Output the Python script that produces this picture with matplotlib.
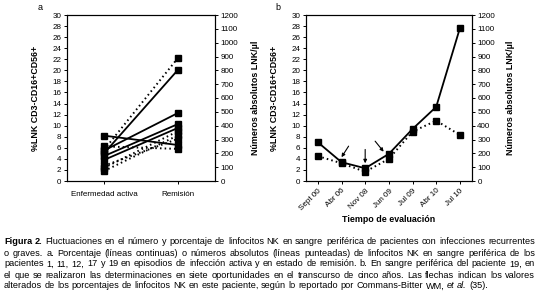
import matplotlib
matplotlib.use("Agg")
import matplotlib.pyplot as plt

plt.rcParams['font.family'] = ['Liberation Sans', 'DejaVu Sans']

# Panel a: five patients, active infection vs remission
estados = ['Enfermedad activa', 'Remisión']
pct_activa = [8.2, 5.0, 5.5, 4.5, 3.8]        # % LNK (solid lines)
pct_remision = [6.5, 20.1, 12.3, 10.3, 9.6]
abs_activa = [225, 250, 95, 72, 110]          # LNK/µl (dotted lines)
abs_remision = [890, 232, 360, 330, 305]

# Panel b: patient 19 over time
fechas = ['Sept 00', 'Abr 06', 'Nov 08', 'Jun 09', 'Jul 09', 'Abr 10', 'Jul 10']
pct_p19 = [7.0, 3.4, 2.3, 4.9, 9.4, 13.4, 27.6]
abs_p19 = [180, 128, 67, 160, 357, 436, 333]

caption = [
    "Figura 2. Fluctuaciones en el número y porcentaje de linfocitos NK en sangre periférica de pacientes con infecciones recurrentes",
    "o graves. a. Porcentaje (líneas continuas) o números absolutos (líneas punteadas) de linfocitos NK en sangre periférica de los",
    "pacientes 1, 11, 12, 17 y 19 en episodios de infección activa y en estado de remisión. b. En sangre periférica del paciente 19, en",
    "el que se realizaron las determinaciones en siete oportunidades en el transcurso de cinco años. Las flechas indican los valores",
    "alterados de los porcentajes de linfocitos NK en este paciente, según lo reportado por Commans-Bitter WM, et al. (35).",
]

W, H = 539, 295
fig = plt.figure(figsize=(W / 100, H / 100), dpi=100)

tick_fs = 5.8
lab_fs = 6.4
solid = dict(color='black', lw=1.3, marker='s', ms=4.0, ls='-')
dotted = dict(color='black', lw=1.4, marker='s', ms=4.0, ls=(0, (0.8, 1.6)))


def style_axes(ax, ax2, xl_left, xl_right):
    ax.set_ylim(0, 30)
    ax.set_yticks(range(0, 31, 2))
    ax2.set_ylim(0, 1200)
    ax2.set_yticks(range(0, 1201, 100))
    for a in (ax, ax2):
        a.tick_params(labelsize=tick_fs, length=2.5, width=0.7, pad=1.5)
        for s in a.spines.values():
            s.set_linewidth(0.8)
    ax.set_ylabel('%LNK CD3-CD16+CD56+', fontsize=lab_fs, fontweight='bold')
    ax2.set_ylabel('Números absolutos LNK/µl', fontsize=lab_fs, fontweight='bold', rotation=90)
    ax.yaxis.set_label_coords(xl_left, 0.5)
    ax2.yaxis.set_label_coords(xl_right, 0.5)


# ---- panel a
axa = fig.add_axes([67 / W, 1 - 181 / H, 148 / W, 166 / H])
axa2 = axa.twinx()
xa = [0, 1]
for i in range(len(pct_activa)):
    axa.plot(xa, [pct_activa[i], pct_remision[i]], **solid)
    axa2.plot(xa, [abs_activa[i], abs_remision[i]], **dotted)
axa.set_xlim(-0.5, 1.5)
axa.set_xticks(xa)
axa.set_xticklabels(estados)
style_axes(axa, axa2, -0.185, 1.245)
axa.tick_params(axis='x', pad=5)
fig.text(38 / W, 1 - 7 / H, 'a', fontsize=6.5, ha='left', va='center')

# ---- panel b
axb = fig.add_axes([306 / W, 1 - 181 / H, 165.7 / W, 166 / H])
axb2 = axb.twinx()
xb = list(range(len(fechas)))
axb.plot(xb, pct_p19, **solid)
axb2.plot(xb, abs_p19, **dotted)
axb.set_xlim(-0.5, 6.5)
axb.set_xticks(xb)
axb.set_xticklabels(fechas, rotation=45, ha='right', rotation_mode='anchor')
style_axes(axb, axb2, -0.16, 1.21)
axb.tick_params(axis='x', pad=2)
fig.text(275 / W, 1 - 7 / H, 'b', fontsize=6.5, ha='left', va='center')

# arrows marking altered percentages
arrows = [((1.0, 4.3), (1.3, 6.3)), ((2.0, 3.2), (2.0, 5.7)), ((2.78, 5.3), (2.42, 7.2))]
for head, tail in arrows:
    axb.annotate('', xy=head, xytext=tail,
                 arrowprops=dict(arrowstyle='-|>', color='black', lw=0.8,
                                 mutation_scale=5, shrinkA=0, shrinkB=0))

fig.text(389 / W, 1 - 220 / H, 'Tiempo de evaluación', fontsize=6.4,
         fontweight='bold', ha='center', va='center')

# ---- caption, justified word by word
renderer = fig.canvas.get_renderer()
cap_fs = 6.6
x0, x1 = 4.0, 535.0
ys = [242, 253, 264, 275, 286]


def word_style(w, line_no, k):
    if line_no == 0 and k < 2:
        return 'bold', 'normal'
    if w in ('et', 'al.') and line_no == 4:
        return 'normal', 'italic'
    return 'normal', 'normal'


space_w = None
for n, line in enumerate(caption):
    words = line.split(' ')
    items = []
    for k, w in enumerate(words):
        wt, st = word_style(w, n, k)
        t = fig.text(0, 0, w, fontsize=cap_fs, fontweight=wt, style=st)
        bw = t.get_window_extent(renderer).width
        t.remove()
        items.append((w, wt, st, bw))
    if space_w is None:
        t = fig.text(0, 0, 'a a', fontsize=cap_fs)
        t2 = fig.text(0, 0, 'aa', fontsize=cap_fs)
        space_w = t.get_window_extent(renderer).width - t2.get_window_extent(renderer).width
        t.remove()
        t2.remove()
    total = sum(it[3] for it in items)
    if n < len(caption) - 1:
        gap = max((x1 - x0 - total) / (len(items) - 1), space_w * 0.6)
    else:
        gap = space_w
    x = x0
    for w, wt, st, bw in items:
        fig.text(x / W, 1 - ys[n] / H, w, fontsize=cap_fs, fontweight=wt, style=st,
                 ha='left', va='center')
        x += bw + gap

fig.savefig('out.png', dpi=100)
